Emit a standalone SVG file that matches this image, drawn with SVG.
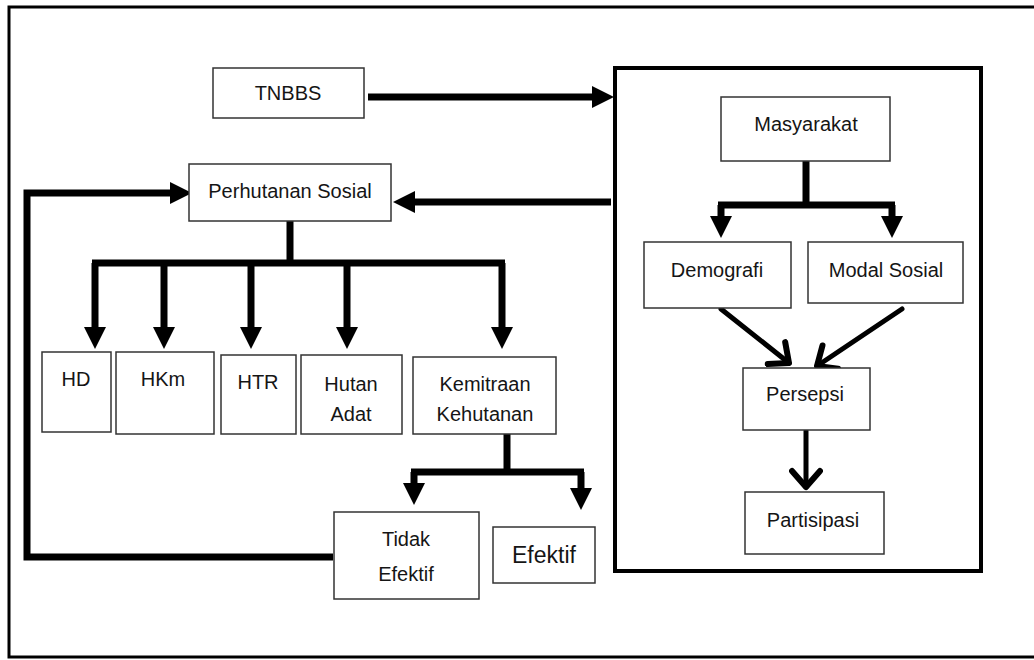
<svg xmlns="http://www.w3.org/2000/svg" width="1034" height="660" viewBox="0 0 1034 660">
<style>
.box{fill:#fff;stroke:#333;stroke-width:1.5}
.t{font-family:"Liberation Sans",Arial,sans-serif;font-size:20px;fill:#151515;text-anchor:middle}
.c{fill:none;stroke:#000;stroke-width:7}
.d{fill:none;stroke:#000;stroke-width:5;stroke-linecap:round}
</style>
<defs>
<marker id="tri" markerUnits="userSpaceOnUse" markerWidth="24" markerHeight="24" refX="10" refY="11" orient="auto" viewBox="0 0 24 24">
<path d="M0,0 L22,11 L0,22 z" fill="#000"/>
</marker>
<marker id="chev" markerUnits="userSpaceOnUse" markerWidth="26" markerHeight="34" refX="20" refY="17" orient="auto" viewBox="0 0 26 34">
<path d="M4,3 L20,17 L4,31" fill="none" stroke="#000" stroke-width="6" stroke-linecap="round" stroke-linejoin="round"/>
</marker>
</defs>
<rect width="1034" height="660" fill="#fff"/>
<rect x="9" y="7" width="1040" height="650" fill="none" stroke="#000" stroke-width="3"/>
<rect id="frame" x="615" y="68" width="366" height="503" fill="none" stroke="#000" stroke-width="4"/>

<g id="connectors">
<line class="c" x1="368" y1="97" x2="602" y2="97" marker-end="url(#tri)"/>
<line class="c" x1="611" y1="202" x2="405" y2="202" marker-end="url(#tri)"/>
<path class="c" d="M333,557 H27 V193 H180" marker-end="url(#tri)"/>
<line class="c" x1="290" y1="221" x2="290" y2="263"/>
<line class="c" x1="92" y1="263" x2="505" y2="263"/>
<line class="c" x1="95" y1="263" x2="95" y2="337" marker-end="url(#tri)"/>
<line class="c" x1="164" y1="263" x2="164" y2="337" marker-end="url(#tri)"/>
<line class="c" x1="251" y1="263" x2="251" y2="337" marker-end="url(#tri)"/>
<line class="c" x1="347" y1="263" x2="347" y2="337" marker-end="url(#tri)"/>
<line class="c" x1="502" y1="263" x2="502" y2="337" marker-end="url(#tri)"/>
<line class="c" x1="507" y1="434" x2="507" y2="472"/>
<line class="c" x1="411" y1="472" x2="584" y2="472"/>
<line class="c" x1="414" y1="472" x2="414" y2="493" marker-end="url(#tri)"/>
<line class="c" x1="581" y1="472" x2="581" y2="498" marker-end="url(#tri)"/>
<line class="c" x1="806" y1="161" x2="806" y2="205"/>
<line class="c" x1="718" y1="205" x2="895" y2="205"/>
<line class="c" x1="721" y1="205" x2="721" y2="226" marker-end="url(#tri)"/>
<line class="c" x1="892" y1="205" x2="892" y2="226" marker-end="url(#tri)"/>
<line class="d" x1="721" y1="309" x2="789" y2="363" marker-end="url(#chev)"/>
<line class="d" x1="902" y1="309" x2="817" y2="366" marker-end="url(#chev)"/>
<line class="d" x1="806" y1="431" x2="806" y2="487" marker-end="url(#chev)"/>
</g>

<g id="tnbbs"><rect class="box" x="213" y="68" width="151" height="50"/><text class="t" x="288" y="100">TNBBS</text></g>
<g id="perhutanan"><rect class="box" x="189" y="164" width="202" height="57"/><text class="t" x="290" y="198">Perhutanan Sosial</text></g>
<g id="hd"><rect class="box" x="42" y="352" width="69" height="80"/><text class="t" x="76" y="386">HD</text></g>
<g id="hkm"><rect class="box" x="116" y="352" width="98" height="82"/><text class="t" x="163" y="386">HKm</text></g>
<g id="htr"><rect class="box" x="221" y="355" width="75" height="79"/><text class="t" x="258" y="389">HTR</text></g>
<g id="hutanadat"><rect class="box" x="301" y="355" width="101" height="79"/><text class="t" x="351" y="391">Hutan</text><text class="t" x="351" y="421">Adat</text></g>
<g id="kemitraan"><rect class="box" x="413" y="357" width="143" height="77"/><text class="t" x="485" y="391">Kemitraan</text><text class="t" x="485" y="421">Kehutanan</text></g>
<g id="tidakefektif"><rect class="box" x="334" y="512" width="145" height="87"/><text class="t" x="406" y="546">Tidak</text><text class="t" x="406" y="581">Efektif</text></g>
<g id="efektif"><rect class="box" x="493" y="527" width="102" height="56"/><text class="t" x="544" y="563" style="font-size:23px">Efektif</text></g>
<g id="masyarakat"><rect class="box" x="721" y="97" width="169" height="64"/><text class="t" x="806" y="131">Masyarakat</text></g>
<g id="demografi"><rect class="box" x="644" y="242" width="147" height="66"/><text class="t" x="717" y="277">Demografi</text></g>
<g id="modalsosial"><rect class="box" x="808" y="242" width="155" height="61"/><text class="t" x="886" y="277">Modal Sosial</text></g>
<g id="persepsi"><rect class="box" x="743" y="368" width="127" height="62"/><text class="t" x="805" y="401">Persepsi</text></g>
<g id="partisipasi"><rect class="box" x="745" y="492" width="139" height="62"/><text class="t" x="813" y="527">Partisipasi</text></g>
</svg>
